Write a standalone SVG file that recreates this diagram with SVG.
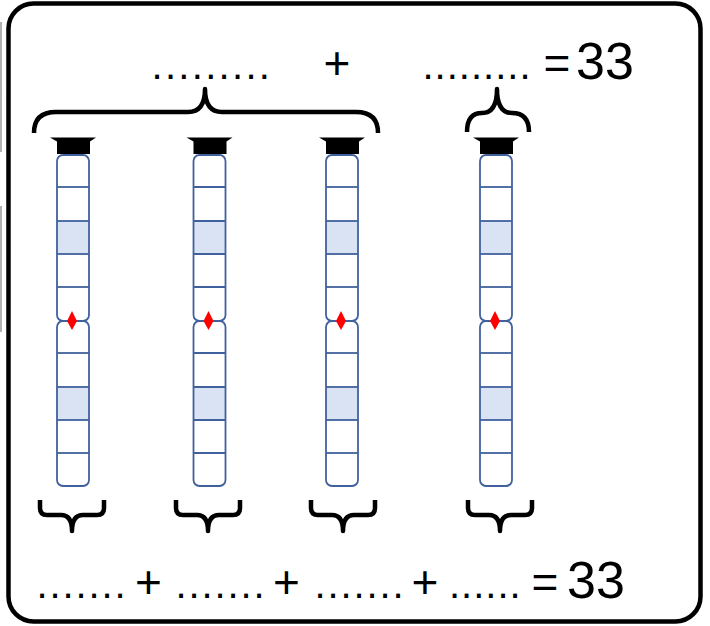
<svg xmlns="http://www.w3.org/2000/svg" xmlns:xlink="http://www.w3.org/1999/xlink" width="710" height="626" viewBox="0 0 710 626">
<style>
.t{font-family:"Liberation Sans",Arial,sans-serif;font-size:46px;fill:#000}
.d{font-family:"Liberation Sans",Arial,sans-serif;font-size:40px;fill:#000}
.n{font-family:"Liberation Sans",Arial,sans-serif;font-size:52px;fill:#000}
.brace{fill:none;stroke:#000;stroke-width:4.5;stroke-linecap:butt;stroke-linejoin:round}
.tubeOut{fill:none;stroke:#41619e;stroke-width:1.8}
.seg{stroke:#41619e;stroke-width:1.8}
.hl{fill:#dae3f3}
</style>
<defs>
<g id="tube">
<path d="M-23,137.5 L23,137.5 L17,141.5 L17,154 L-16,154 L-16,141.5 Z" fill="#000"/>
<rect x="-16" y="155" width="32" height="166" rx="6" fill="#fff"/>
<rect x="-16" y="221" width="32" height="33" class="hl"/>
<rect x="-16" y="321" width="32" height="165" rx="6" fill="#fff"/>
<rect x="-16" y="387" width="32" height="33" class="hl"/>
<g class="seg">
<line x1="-16" y1="187" x2="16" y2="187"/>
<line x1="-16" y1="221" x2="16" y2="221"/>
<line x1="-16" y1="254" x2="16" y2="254"/>
<line x1="-16" y1="287" x2="16" y2="287"/>
<line x1="-16" y1="353" x2="16" y2="353"/>
<line x1="-16" y1="387" x2="16" y2="387"/>
<line x1="-16" y1="420" x2="16" y2="420"/>
<line x1="-16" y1="453" x2="16" y2="453"/>
</g>
<rect x="-16" y="155" width="32" height="166" rx="6" class="tubeOut"/>
<rect x="-16" y="321" width="32" height="165" rx="6" class="tubeOut"/>
<path d="M-1,311 L4,321 L-1,330 L-6,321 Z" fill="#ff0000"/>
</g>
<path id="bbrace" class="brace" d="M-32,500 L-32,508 Q-32,515 -25,515 L-11,515 Q0,515 0,531 Q0,515 11,515 L25,515 Q32,515 32,508 L32,500"/>
</defs>

<g id="frame">
<rect x="8.5" y="3.5" width="692" height="618" rx="25" fill="#fff" stroke="#000" stroke-width="4.5"/>
<line x1="1" y1="22" x2="1" y2="152" stroke="#999" stroke-width="1.5"/>
<line x1="1" y1="206" x2="1" y2="332" stroke="#999" stroke-width="1.5"/>
</g>

<g id="top-text">
<text class="d" x="151.5" y="79" letter-spacing="2.3">.........</text>
<text class="t" x="337" y="79" text-anchor="middle">+</text>
<text class="d" x="422.5" y="79" letter-spacing="1.0">.........</text>
<text class="t" x="557" y="79" text-anchor="middle">=</text>
<text class="n" x="576" y="79">33</text>
</g>

<g id="top-brace-left">
<path class="brace" d="M34,133 Q34,112 56,112 L188,112 Q205,112 205,89 Q205,112 222,112 L356,112 Q378,112 378,133"/>
</g>
<g id="top-brace-right">
<path class="brace" d="M467,132 Q467,113 482,113 Q497,113 497,89 Q497,113 512,113 Q529,113 529,132"/>
</g>

<g id="tube1"><use xlink:href="#tube" href="#tube" transform="translate(73,0)"/></g>
<g id="tube2"><use xlink:href="#tube" href="#tube" transform="translate(209.5,0)"/></g>
<g id="tube3"><use xlink:href="#tube" href="#tube" transform="translate(342,0)"/></g>
<g id="tube4"><use xlink:href="#tube" href="#tube" transform="translate(496,0)"/></g>

<g id="bottom-braces">
<use xlink:href="#bbrace" href="#bbrace" transform="translate(72,0)"/>
<use xlink:href="#bbrace" href="#bbrace" transform="translate(208,0)"/>
<use xlink:href="#bbrace" href="#bbrace" transform="translate(343,0)"/>
<use xlink:href="#bbrace" href="#bbrace" transform="translate(500,0)"/>
</g>

<g id="bottom-text">
<text class="d" x="36.5" y="598" letter-spacing="1.9">.......</text>
<text class="t" x="148.5" y="598" text-anchor="middle">+</text>
<text class="d" x="175.5" y="598" letter-spacing="1.9">.......</text>
<text class="t" x="286.5" y="598" text-anchor="middle">+</text>
<text class="d" x="314.5" y="598" letter-spacing="1.9">.......</text>
<text class="t" x="425" y="598" text-anchor="middle">+</text>
<text class="d" x="449" y="598" letter-spacing="1.0">......</text>
<text class="t" x="545" y="598" text-anchor="middle" font-size="42">=</text>
<text class="n" x="567" y="598" font-size="53">33</text>
</g>
</svg>
